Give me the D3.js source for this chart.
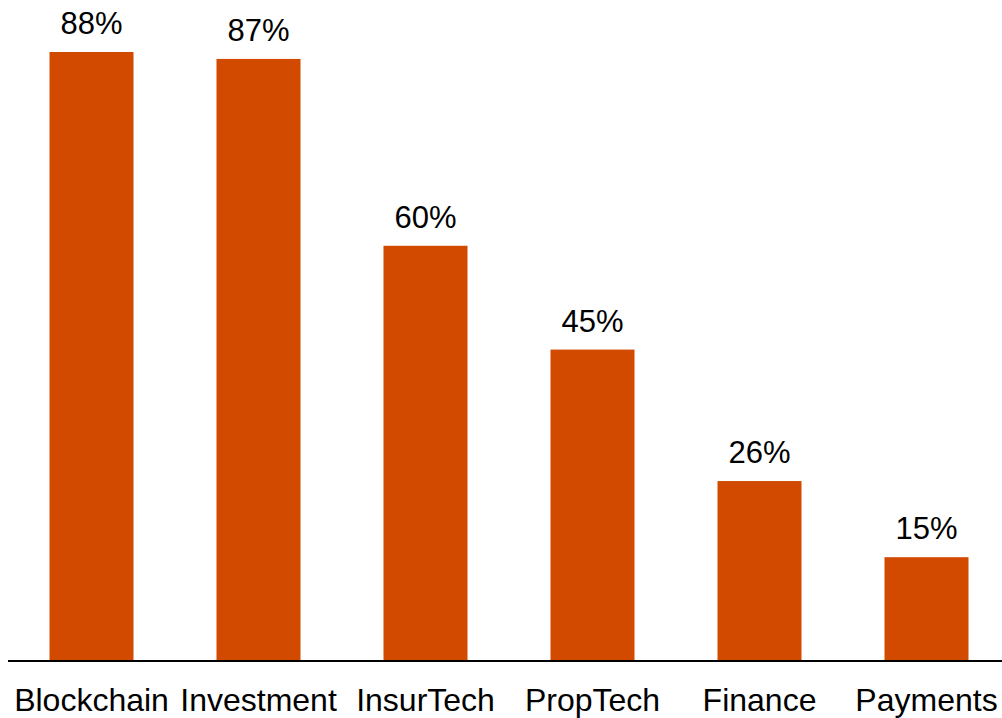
<!DOCTYPE html>
<html>
<head>
<meta charset="utf-8">
<script src="https://cdn.jsdelivr.net/npm/d3@7"></script>
<style>
  html, body { margin: 0; padding: 0; background: #fff; }
  #chart { width: 1002px; height: 718px; }
  text { font-family: "Liberation Sans", Arial, sans-serif; fill: #000; }
</style>
</head>
<body>
<div id="chart"></div>
<script>
// data
const categories = ["Blockchain", "Investment", "InsurTech", "PropTech", "Finance", "Payments"];
const values = [88, 87, 60, 45, 26, 15];

const width = 1002, height = 718;
const baseline = 661;

const svg = d3.select("#chart").append("svg")
    .attr("width", width)
    .attr("height", height);

const x = d3.scaleBand()
    .domain(categories)
    .range([8, 1010])
    .paddingInner(0.497)
    .paddingOuter(0.2485);

const y = d3.scaleLinear()
    .domain([0, 88])
    .range([baseline, 52]);

const data = categories.map((c, i) => ({ cat: c, val: values[i] }));

// bars
svg.append("g").selectAll("rect")
    .data(data)
    .enter().append("rect")
    .attr("x", d => x(d.cat))
    .attr("y", d => y(d.val))
    .attr("width", x.bandwidth())
    .attr("height", d => baseline - y(d.val))
    .attr("fill", "#d24a00");

// value labels
svg.append("g").selectAll("text")
    .data(data)
    .enter().append("text")
    .attr("x", d => x(d.cat) + x.bandwidth() / 2)
    .attr("y", d => y(d.val) - 18)
    .attr("text-anchor", "middle")
    .style("font-size", "31px")
    .text(d => d.val + "%");

// x axis
const xAxis = svg.append("g")
    .attr("transform", `translate(0,${baseline})`)
    .call(d3.axisBottom(x).tickSize(0).tickPadding(0));

xAxis.select(".domain")
    .attr("d", "M8,0H1002")
    .attr("stroke", "#000")
    .attr("stroke-width", 2);

xAxis.selectAll(".tick text")
    .attr("y", 50)
    .attr("dy", null)
    .attr("fill", "#000")
    .style("font-family", "\"Liberation Sans\", Arial, sans-serif")
    .style("font-size", "32px");
</script>
</body>
</html>
